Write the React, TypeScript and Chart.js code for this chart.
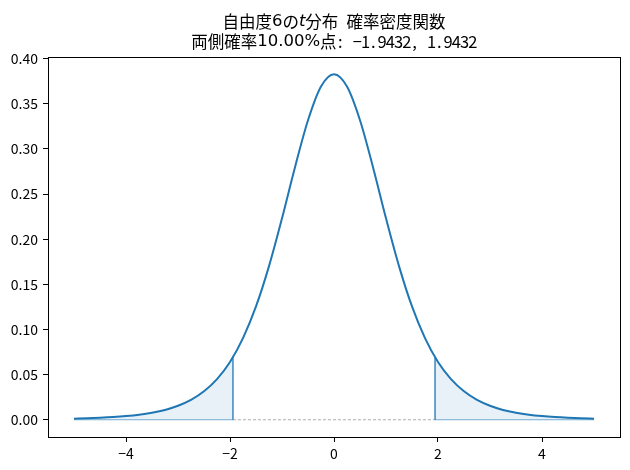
import React, { useEffect, useRef } from "react";
import { Chart, registerables } from "chart.js";

Chart.register(...registerables);

// t-distribution (df = 6) density
const xValues = [
  -5, -4.75, -4.5, -4.25, -4, -3.75, -3.5, -3.25, -3, -2.75, -2.5, -2.25, -2, -1.75, -1.5, -1.25, -1, -0.75, -0.5, -0.25,
  0, 0.25, 0.5, 0.75, 1, 1.25, 1.5, 1.75, 2, 2.25, 2.5, 2.75, 3, 3.25, 3.5, 3.75, 4, 4.25, 4.5, 4.75, 5,
];
const densityValues = [
  0.0012, 0.0016, 0.0022, 0.003, 0.0041, 0.0056, 0.0078, 0.0109, 0.0155, 0.022, 0.0315, 0.045, 0.064, 0.0904, 0.1255,
  0.1702, 0.2231, 0.2797, 0.3317, 0.3691, 0.3827, 0.3691, 0.3317, 0.2797, 0.2231, 0.1702, 0.1255, 0.0904, 0.064, 0.045,
  0.0315, 0.022, 0.0155, 0.0109, 0.0078, 0.0056, 0.0041, 0.003, 0.0022, 0.0016, 0.0012,
];
const criticalValue = 1.9432;
const criticalDensity = 0.0693;
const xTickValues = [-4, -2, 0, 2, 4];
const yTickValues = [0, 0.05, 0.1, 0.15, 0.2, 0.25, 0.3, 0.35, 0.4];
const degreesOfFreedom = "6";
const tailProbability = "10.00%";
const criticalLabel = "-1.9432, 1.9432";

const BLUE = "#1f77b4";
const FONT = '"Noto Sans CJK JP", "Noto Sans", sans-serif';
const TITLE_SIZE = 16.5;

type Run = { t: string; kind: "cjk" | "prop" | "italic" | "half" };

export default function App() {
  const ref = useRef<HTMLCanvasElement | null>(null);

  useEffect(() => {
    if (!ref.current) return;
    const curve = xValues.map((x, i) => ({ x, y: densityValues[i] }));
    const leftTail = [
      ...curve.filter((p) => p.x <= -criticalValue),
      { x: -criticalValue, y: criticalDensity },
    ];
    const rightTail = [
      { x: criticalValue, y: criticalDensity },
      ...curve.filter((p) => p.x >= criticalValue),
    ];
    const xMin = xValues[0];
    const xMax = xValues[xValues.length - 1];

    const fontFor = (kind: Run["kind"]) => {
      if (kind === "cjk") return `${TITLE_SIZE}px ${FONT}`;
      if (kind === "prop") return `${TITLE_SIZE}px "DejaVu Sans", sans-serif`;
      if (kind === "italic") return `italic ${TITLE_SIZE}px "DejaVu Sans", sans-serif`;
      return `${TITLE_SIZE}px "Liberation Sans Narrow", ${FONT}`;
    };

    const runWidth = (ctx: CanvasRenderingContext2D, r: Run) => {
      if (r.kind === "cjk") return r.t.length * TITLE_SIZE;
      if (r.kind === "half") return r.t.length * TITLE_SIZE * 0.5;
      ctx.font = fontFor(r.kind);
      return ctx.measureText(r.t).width;
    };

    const drawRuns = (ctx: CanvasRenderingContext2D, runs: Run[], cx: number, cy: number) => {
      let total = 0;
      for (const r of runs) total += runWidth(ctx, r);
      let x = cx - total / 2;
      for (const r of runs) {
        ctx.font = fontFor(r.kind);
        if (r.kind === "prop" || r.kind === "italic") {
          ctx.textAlign = "left";
          ctx.fillText(r.t, x, cy);
          x += runWidth(ctx, r);
          continue;
        }
        const cell = r.kind === "cjk" ? TITLE_SIZE : TITLE_SIZE * 0.5;
        for (const ch of r.t) {
          if (ch !== " ") {
            if (".,:".includes(ch)) {
              ctx.textAlign = "left";
              ctx.fillText(ch, x + 1.5, cy);
            } else {
              ctx.textAlign = "center";
              ctx.fillText(ch === "-" ? "\u2212" : ch, x + cell / 2, cy);
            }
          }
          x += cell;
        }
      }
    };

    const titlePlugin = {
      id: "customTitle",
      afterDraw(chart: any) {
        const ctx = chart.ctx;
        const area = chart.chartArea;
        const cx = (area.left + area.right) / 2;
        ctx.save();
        ctx.fillStyle = "#000";
        ctx.textBaseline = "middle";
        drawRuns(
          ctx,
          [
            { t: "自由度", kind: "cjk" },
            { t: degreesOfFreedom, kind: "prop" },
            { t: "の", kind: "cjk" },
            { t: "t", kind: "italic" },
            { t: "分布", kind: "cjk" },
            { t: " ", kind: "half" },
            { t: "確率密度関数", kind: "cjk" },
          ],
          cx,
          22
        );
        drawRuns(
          ctx,
          [
            { t: "両側確率", kind: "cjk" },
            { t: tailProbability, kind: "prop" },
            { t: "点", kind: "cjk" },
            { t: ": " + criticalLabel, kind: "half" },
          ],
          cx,
          42
        );
        // top/right spines
        ctx.strokeStyle = "#000";
        ctx.lineWidth = 1;
        ctx.strokeRect(
          Math.round(area.left) + 0.5,
          Math.round(area.top) + 0.5,
          Math.round(area.right - area.left),
          Math.round(area.bottom - area.top)
        );
        ctx.restore();
      },
    };

    const chart = new Chart(ref.current, {
      type: "scatter",
      data: {
        datasets: [
          {
            data: leftTail,
            showLine: true,
            fill: "origin",
            backgroundColor: "rgba(31,119,180,0.1)",
            borderWidth: 0,
            pointRadius: 0,
            cubicInterpolationMode: "monotone",
          } as any,
          {
            data: rightTail,
            showLine: true,
            fill: "origin",
            backgroundColor: "rgba(31,119,180,0.1)",
            borderWidth: 0,
            pointRadius: 0,
            cubicInterpolationMode: "monotone",
          } as any,
          {
            data: [
              { x: -criticalValue, y: criticalDensity },
              { x: -criticalValue, y: 0 },
              { x: xMin, y: 0 },
            ],
            showLine: true,
            borderColor: "rgba(31,119,180,0.6)",
            borderWidth: 1,
            pointRadius: 0,
            tension: 0,
          },
          {
            data: [
              { x: criticalValue, y: criticalDensity },
              { x: criticalValue, y: 0 },
              { x: xMax, y: 0 },
            ],
            showLine: true,
            borderColor: "rgba(31,119,180,0.6)",
            borderWidth: 1,
            pointRadius: 0,
            tension: 0,
          },
          {
            data: [
              { x: -criticalValue, y: 0 },
              { x: criticalValue, y: 0 },
            ],
            showLine: true,
            borderColor: "#999999",
            borderWidth: 0.8,
            borderDash: [3, 2],
            pointRadius: 0,
          },
          {
            data: curve,
            showLine: true,
            borderColor: BLUE,
            borderWidth: 2,
            pointRadius: 0,
            cubicInterpolationMode: "monotone",
          } as any,
        ],
      },
      options: {
        responsive: false,
        animation: false,
        devicePixelRatio: 1,
        layout: { padding: { top: 57, right: 10, left: 0, bottom: 0 } },
        plugins: { legend: { display: false }, tooltip: { enabled: false }, title: { display: false } },
        scales: {
          x: {
            type: "linear",
            min: -5.5,
            max: 5.5,
            afterBuildTicks: (s: any) => {
              s.ticks = xTickValues.map((v) => ({ value: v }));
            },
            afterFit: (s: any) => {
              s.height = 33;
            },
            grid: { display: true, drawOnChartArea: false, drawTicks: true, tickLength: 5, color: "#000" },
            border: { display: true, color: "#000", width: 1 },
            ticks: {
              color: "#000",
              padding: 3,
              maxRotation: 0,
              font: { family: FONT, size: 14 },
              callback: (v: any) => String(v).replace("-", "\u2212"),
            },
          },
          y: {
            type: "linear",
            min: -0.0191,
            max: 0.4018,
            afterBuildTicks: (s: any) => {
              s.ticks = yTickValues.map((v) => ({ value: v }));
            },
            afterFit: (s: any) => {
              s.width = 48;
            },
            grid: { display: true, drawOnChartArea: false, drawTicks: true, tickLength: 5, color: "#000" },
            border: { display: true, color: "#000", width: 1 },
            ticks: {
              color: "#000",
              padding: 5,
              font: { family: FONT, size: 14 },
              callback: (v: any) => Number(v).toFixed(2),
            },
          },
        },
      },
      plugins: [titlePlugin],
    } as any);
    return () => chart.destroy();
  }, []);

  return (
    <div style={{ position: "fixed", left: 0, top: 0, width: 630, height: 470, background: "#fff" }}>
      <canvas ref={ref} width={630} height={470} />
    </div>
  );
}
